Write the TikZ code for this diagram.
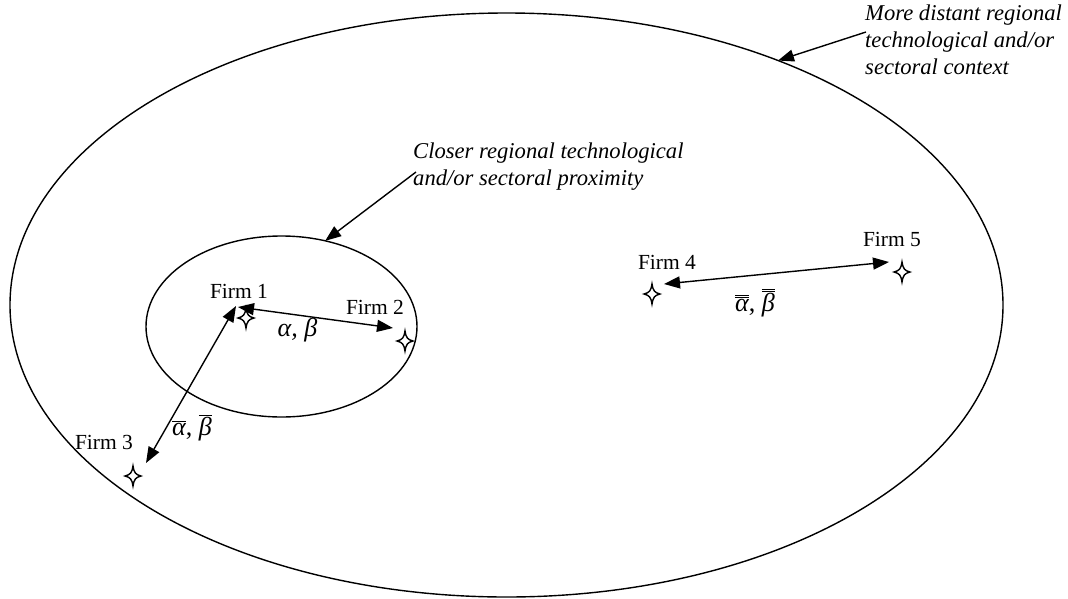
\documentclass[tikz,border=0pt]{standalone}
\usepackage{fontspec}
\setmainfont{Liberation Serif}
\usetikzlibrary{shapes.geometric,arrows.meta}
\begin{document}
\begin{tikzpicture}[x=1pt,y=-1pt,
  every node/.style={font=\fontsize{21.5}{27}\selectfont},
  ring/.style={ellipse,draw,line width=1.4pt,inner sep=0pt,outer sep=0pt},
  pics/fourstar/.style={code={
    \draw[line width=1.4pt,fill=white,line join=miter]
      (0,-10) .. controls (1.2,-3) and (2.5,-1.5) .. (8,0)
      .. controls (2.5,1.5) and (1.2,3) .. (0,10)
      .. controls (-1.2,3) and (-2.5,1.5) .. (-8,0)
      .. controls (-2.5,-1.5) and (-1.2,-3) .. (0,-10) -- cycle;}},
  link/.style={line width=1.4pt,{Triangle[length=16pt,width=12pt]}-{Triangle[length=16pt,width=12pt]}},
  pointer/.style={line width=1.4pt,-{Triangle[length=16pt,width=12pt]}},
  firmlabel/.style={anchor=base,inner sep=0pt},
  greeklabel/.style={anchor=base,inner sep=0pt,font=\fontsize{26}{30}\selectfont},
  note/.style={align=left,anchor=north west,inner sep=0pt,font=\fontsize{22.6}{27}\selectfont\itshape}]
\useasboundingbox (0,0) rectangle (1068,598);
% regions
\node[ring,minimum width=993pt,minimum height=584pt] (outer) at (506.5,305) {};
\node[ring,minimum width=271pt,minimum height=181pt] (inner) at (281.5,326.5) {};
% annotations
\node[note] (farnote) at (865,4.6) {More distant regional\\technological and/or\\sectoral context};
\node[note] (nearnote) at (413,142.6) {Closer regional technological\\and/or sectoral proximity};
\coordinate (farstart) at (866,32);
\coordinate (nearstart) at (416,172);
\draw[pointer] (farstart) -- (outer.42.4);
\draw[pointer] (nearstart) -- (inner.63.3);
% firms
\coordinate (s1) at (246,318);
\coordinate (s2) at (405,341);
\coordinate (s3) at (133,476);
\coordinate (s4) at (652,294);
\coordinate (s5) at (902,272);
\pic at (s1) {fourstar};
\pic at (s2) {fourstar};
\pic at (s3) {fourstar};
\pic at (s4) {fourstar};
\pic at (s5) {fourstar};
\node[firmlabel] (f1) at (239,298) {Firm 1};
\node[firmlabel] (f2) at (375,314) {Firm 2};
\node[firmlabel] (f3) at (104,449) {Firm 3};
\node[firmlabel] (f4) at (667,269) {Firm 4};
\node[firmlabel] (f5) at (892,246) {Firm 5};
% links
\coordinate (a1) at (238,307);
\coordinate (a2) at (393,328);
\coordinate (b1) at (236,306);
\coordinate (b2) at (146,463);
\coordinate (c1) at (664,284);
\coordinate (c2) at (889,262);
\draw[link] (a1) -- (a2);
\draw[link] (b1) -- (b2);
\draw[link] (c1) -- (c2);
\node[greeklabel] (l12) at (297.5,336) {\itshape α, β};
\node[greeklabel] (l13) at (192,435) {$\overline{\mbox{\itshape α}}$, $\overline{\mbox{\itshape β}}$};
\node[greeklabel] (l45) at (755,311) {$\overline{\overline{\mbox{\itshape α}}}$, $\overline{\overline{\mbox{\itshape β}}}$};
\end{tikzpicture}
\end{document}
